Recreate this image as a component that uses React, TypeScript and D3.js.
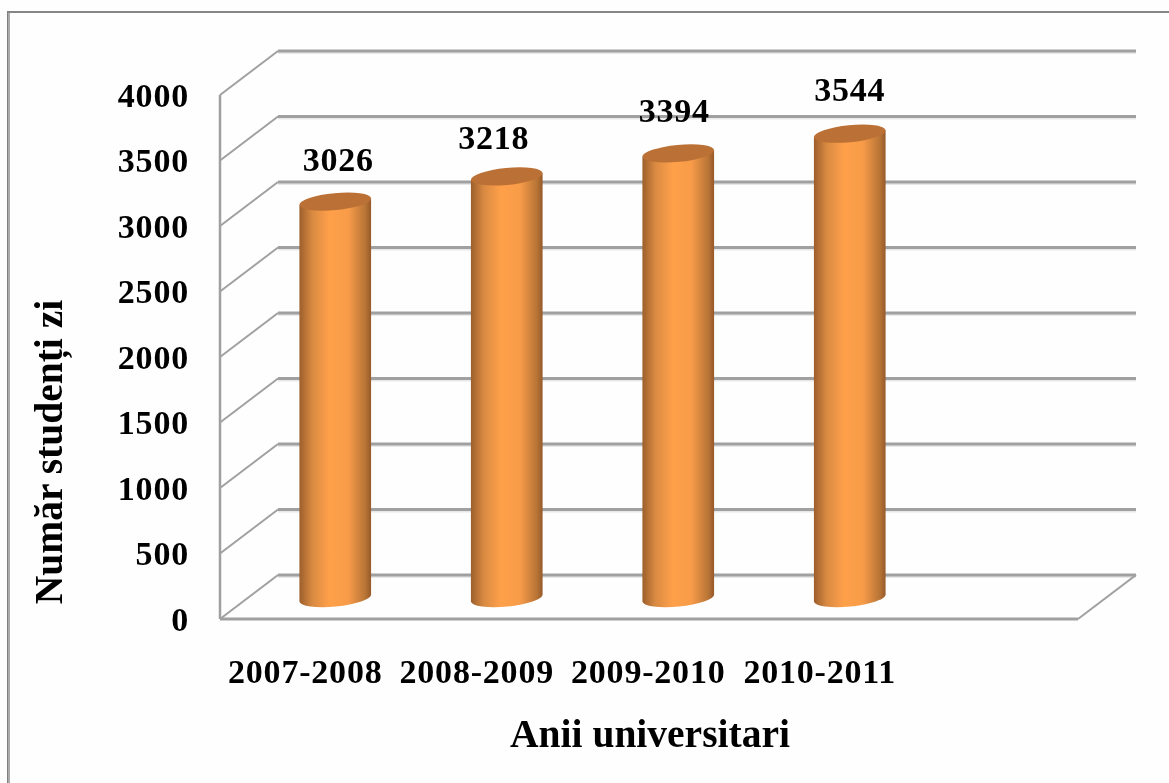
import React from "react";
import * as d3 from "d3";

const categories = ["2007-2008", "2008-2009", "2009-2010", "2010-2011"];
const values = [3026, 3218, 3394, 3544];
const yTicks = [0, 500, 1000, 1500, 2000, 2500, 3000, 3500, 4000];
const yTitle = "Număr studenți zi";
const xTitle = "Anii universitari";

const W = 1169, H = 783;
const FRONT_X0 = 220, FRONT_X1 = 1078;
const DX = 58, DY = -44;
const font = "'Liberation Serif', serif";
const labelNudgeX = [3, -13, -4, 0];
const labelNudgeY = [-31, -27, -31, -33];

export default function App() {
  const yFront = d3.scaleLinear().domain([0, 4000]).range([619, 95]);
  const yBar = d3.scaleLinear().domain([0, 4000]).range([598, 74]);
  const xBand = d3.scaleBand<string>().domain([...categories, ""]).range([249.5, 1107]);
  const RX = 36, RY = 8.5, ROT = -5.5;
  const grey = "#a0a0a0";
  return (
    <svg width={W} height={H} viewBox={`0 0 ${W} ${H}`} style={{ position: "absolute", left: 0, top: 0, background: "#fefefe" }}>
      <defs>
        <linearGradient id="cyl" x1="0" x2="1" y1="0" y2="0">
          <stop offset="0" stopColor="#9c5f2c" />
          <stop offset="0.18" stopColor="#d98a42" />
          <stop offset="0.42" stopColor="#ffa04a" />
          <stop offset="0.68" stopColor="#f89c4a" />
          <stop offset="0.92" stopColor="#b87436" />
          <stop offset="1" stopColor="#96592a" />
        </linearGradient>
        <filter id="soft" x="-5%" y="-5%" width="110%" height="110%">
          <feGaussianBlur stdDeviation="0.5" />
        </filter>
      </defs>
      <line x1={7} x2={W} y1={12} y2={12} stroke="#868686" strokeWidth={2} />
      <line x1={7.5} x2={7.5} y1={11} y2={H} stroke="#808080" strokeWidth={1} />
      <line x1={9} x2={9} y1={13} y2={H} stroke="#ababab" strokeWidth={2} />
      <g filter="url(#soft)">
        {yTicks.map((t) => (
          <g key={t}>
            <line x1={FRONT_X0 + DX} x2={FRONT_X1 + DX} y1={yFront(t) + DY + 2} y2={yFront(t) + DY + 2} stroke="#e8e8e8" strokeWidth={2} />
            <line x1={FRONT_X0 + DX} x2={FRONT_X1 + DX} y1={yFront(t) + DY} y2={yFront(t) + DY} stroke={grey} strokeWidth={3} />
            <line x1={FRONT_X0} x2={FRONT_X0 + DX} y1={yFront(t)} y2={yFront(t) + DY} stroke={grey} strokeWidth={2} />
          </g>
        ))}
        <line x1={FRONT_X0} x2={FRONT_X0} y1={yFront(4000)} y2={yFront(0)} stroke={grey} strokeWidth={2.5} />
        <line x1={FRONT_X0} x2={FRONT_X1} y1={yFront(0)} y2={yFront(0)} stroke={grey} strokeWidth={3} />
        <line x1={FRONT_X1} x2={FRONT_X1 + DX} y1={yFront(0)} y2={yFront(0) + DY} stroke={grey} strokeWidth={2} />
        {categories.map((c, i) => {
          const cx = (xBand(c) as number) + xBand.bandwidth() / 2;
          const top = yBar(values[i]);
          const base = yBar(0);
          const rad = (ROT * Math.PI) / 180;
          const ex = RX * Math.cos(rad), ey = RX * Math.sin(rad);
          const side = `M${cx - ex},${top - ey} L${cx - ex},${base - ey} A${RX},${RY} ${ROT} 0 0 ${cx + ex},${base + ey} L${cx + ex},${top + ey} Z`;
          return (
            <g key={c}>
              <path d={side} fill="url(#cyl)" />
              <ellipse cx={cx} cy={top} rx={RX} ry={RY} transform={`rotate(${ROT} ${cx} ${top})`} fill="#bb7035" />
            </g>
          );
        })}
        <g fontFamily={font} fontWeight="bold" fill="#000">
          {categories.map((c, i) => {
            const cx = (xBand(c) as number) + xBand.bandwidth() / 2;
            return (
              <g key={c}>
                <text x={cx + labelNudgeX[i]} y={yBar(values[i]) + labelNudgeY[i]} textAnchor="middle" fontSize={34} letterSpacing={0.8}>{values[i]}</text>
                <text x={cx - 30} y={683} textAnchor="middle" fontSize={34} letterSpacing={0.8}>{c}</text>
              </g>
            );
          })}
          {yTicks.map((t) => (
            <text key={t} x={189} y={yFront(t) + 11.5} textAnchor="end" fontSize={34} letterSpacing={0.8}>{t}</text>
          ))}
          <text x={650} y={747} textAnchor="middle" fontSize={39.5}>{xTitle}</text>
          <text transform="translate(62,452) rotate(-90)" textAnchor="middle" fontSize={39.5}>{yTitle}</text>
        </g>
      </g>
    </svg>
  );
}
